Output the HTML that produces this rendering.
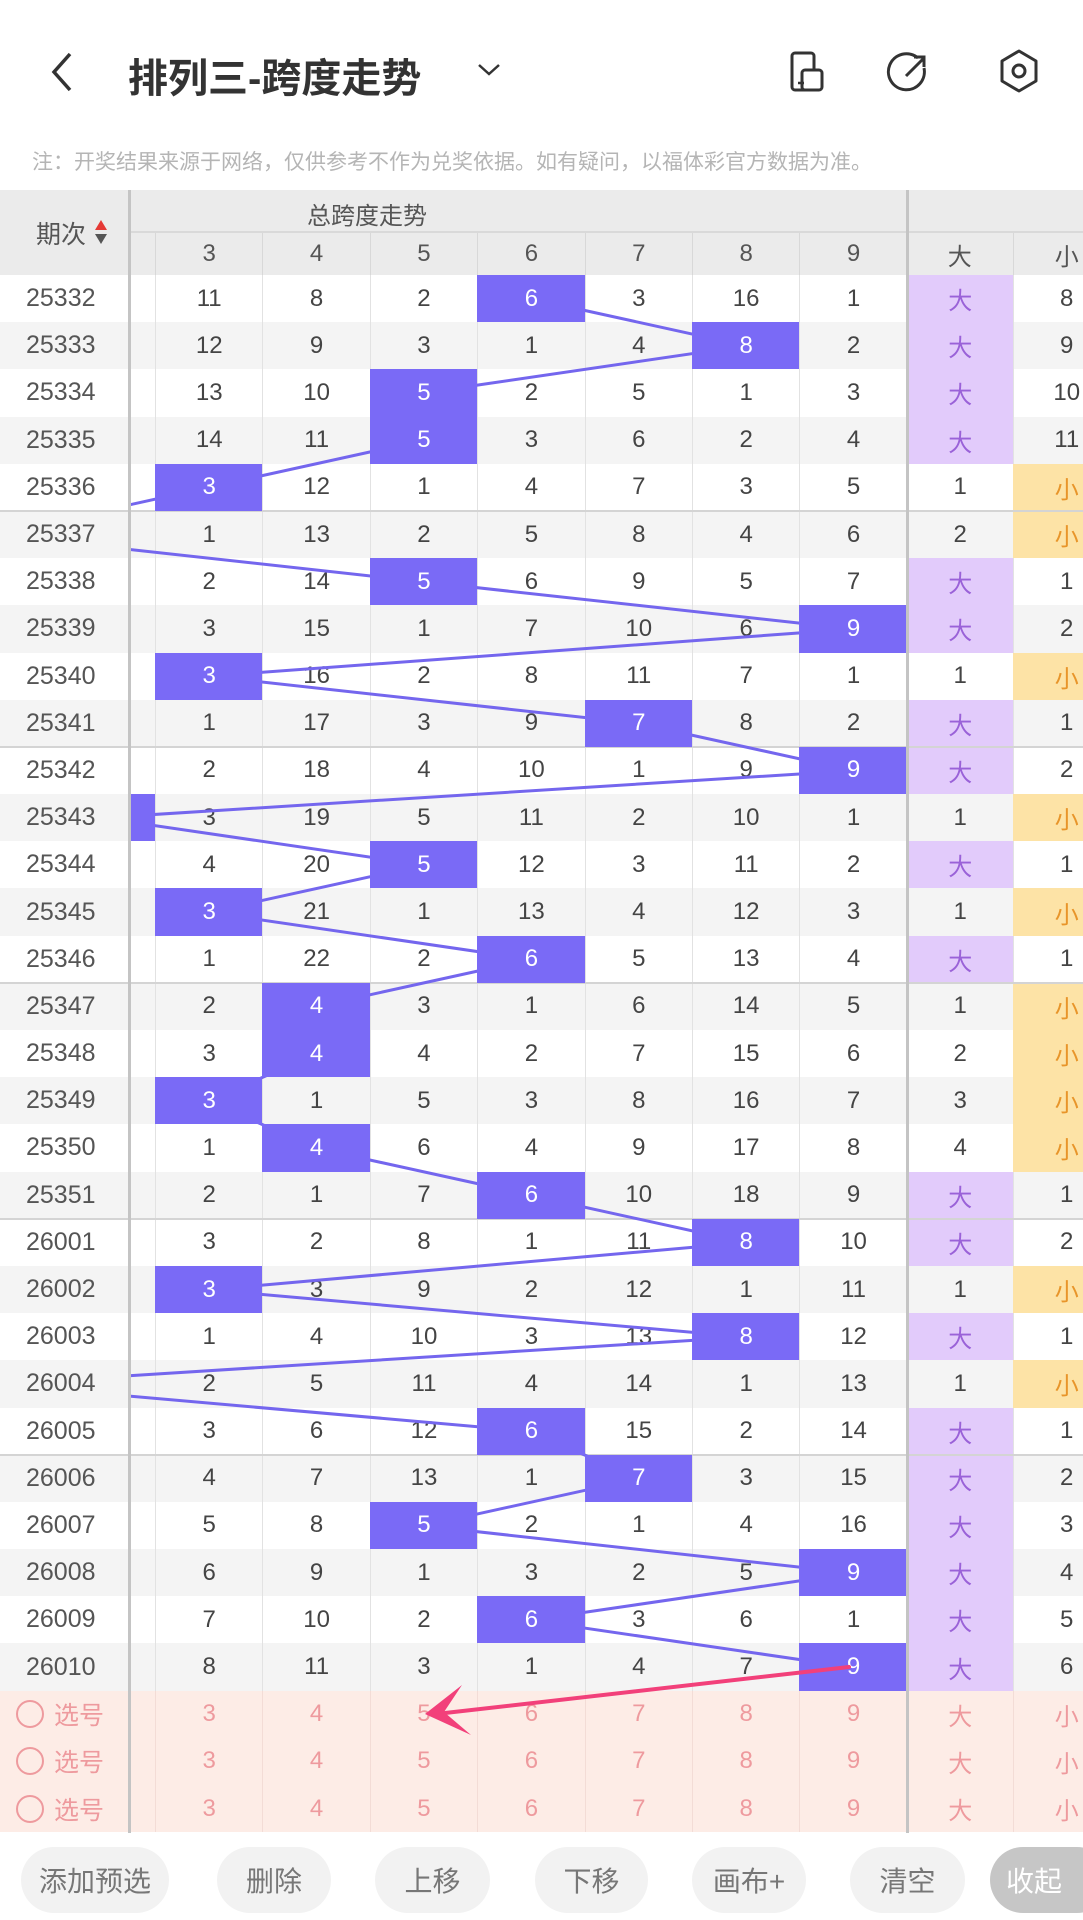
<!DOCTYPE html>
<html><head><meta charset="utf-8">
<style>
*{margin:0;padding:0;box-sizing:border-box}
body{width:1083px;height:1920px;background:#fff;position:relative;overflow:hidden;font-family:"Liberation Sans","Noto Sans CJK SC",sans-serif;color:#444}
.abs{position:absolute}
#rows{position:absolute;left:0;top:275px;width:1083px}
.r{height:47.2px;display:flex;position:relative;background:#fff}
.r.g{background:#f4f4f4}
.r div{height:100%;display:flex;align-items:center;justify-content:center;font-size:24px;border-left:1px solid #e2e2e2;flex:none}
.r .p{width:131px;border-left:none;font-size:25px;color:#555;justify-content:flex-start;padding-left:26px}
.r .s{width:24px;border-left:none}
.r .c{width:107.4px}
.r .b{width:106px}
.r .x{width:107px}
.r .bl{background:#7a6af6;color:#fff;position:relative;z-index:2;border-left-color:#7a6af6}
.r .da{background:#e2cbfb;color:#9a62d8;border-left-color:#e2cbfb}
.r .xi{background:#fde3a6;color:#e8952a;border-left-color:#fde3a6}
.r.sel{background:#fdece6}
.r.sel div{color:#ee9a9e;border-left-color:#f3dcd6}
.r.sel .p{padding-left:16px;color:#ee9a9e}
.circ{width:28px!important;height:28px!important;border:2px solid #ee9a9e!important;border-radius:50%;margin-right:10px}
.hd{display:flex;font-size:24px;color:#555}
.hd div{flex:none;display:flex;align-items:center;justify-content:center;border-left:1px solid #d8d8d8;height:100%}
.btn{position:absolute;top:1847px;height:66px;border-radius:33px;background:#f2f2f2;color:#777;font-size:28px;display:flex;align-items:center;justify-content:center}
</style></head><body>
<svg class="abs" style="left:46px;top:50px" width="30" height="44"><polyline points="24,4 8,22 24,40" fill="none" stroke="#333" stroke-width="3.5"/></svg>
<div class="abs" style="left:128px;top:46px;font-size:40px;font-weight:bold;color:#333">排列三-跨度走势</div>
<svg class="abs" style="left:476px;top:62px" width="26" height="16"><polyline points="3,3 13,12 23,3" fill="none" stroke="#333" stroke-width="2.5"/></svg>
<svg class="abs" style="left:788px;top:50px" width="50" height="44"><rect x="4" y="3" width="22" height="37" rx="3" fill="none" stroke="#333" stroke-width="3"/><rect x="14" y="20" width="20" height="20" rx="3" fill="#fff" stroke="#333" stroke-width="3"/><line x1="10" y1="33" x2="16" y2="33" stroke="#333" stroke-width="2.5"/></svg>
<svg class="abs" style="left:886px;top:50px" width="46" height="46"><path d="M32 8 A18 18 0 1 0 38 18" fill="none" stroke="#333" stroke-width="3"/><line x1="20" y1="26" x2="37" y2="9" stroke="#333" stroke-width="3"/><polyline points="28,7 38,7 38,17" fill="none" stroke="#333" stroke-width="3"/></svg>
<svg class="abs" style="left:996px;top:48px" width="46" height="46"><polygon points="23,3 40,13 40,33 23,43 6,33 6,13" fill="none" stroke="#333" stroke-width="3" stroke-linejoin="round"/><circle cx="23" cy="23" r="6" fill="none" stroke="#333" stroke-width="3"/></svg>
<div class="abs" style="left:32px;top:146px;font-size:21px;color:#b5b5b5;white-space:nowrap">注：开奖结果来源于网络，仅供参考不作为兑奖依据。如有疑问，以福体彩官方数据为准。</div>

<div class="abs" style="left:0;top:190px;width:1083px;height:85px;background:#ebebeb"></div>
<div class="abs" style="left:131px;top:231px;width:952px;height:2px;background:#d9d9d9"></div>
<div class="abs" style="left:36px;top:215px;font-size:25px;color:#555">期次</div>
<svg class="abs" style="left:94px;top:219px" width="14" height="26"><polygon points="7,1 13,11 1,11" fill="#e53935"/><polygon points="7,25 13,15 1,15" fill="#555"/></svg>
<div class="abs" style="left:307px;top:196px;font-size:24px;color:#555">总跨度走势</div>
<div class="abs hd" style="left:131px;top:233px;width:952px;height:42px">
<div style="width:24px;border-left:none"></div>
<div style="width:107.4px">3</div><div style="width:107.4px">4</div><div style="width:107.4px">5</div><div style="width:107.4px">6</div><div style="width:107.4px">7</div><div style="width:107.4px">8</div><div style="width:107.4px">9</div>
<div style="width:106px;border-left:none">大</div>
<div style="width:107px">小</div>
</div>

<div id="rows">
<div class="r"><div class="p">25332</div><div class="s"></div><div class="c">11</div><div class="c">8</div><div class="c">2</div><div class="c bl">6</div><div class="c">3</div><div class="c">16</div><div class="c">1</div><div class="b da">大</div><div class="x">8</div></div>
<div class="r g"><div class="p">25333</div><div class="s"></div><div class="c">12</div><div class="c">9</div><div class="c">3</div><div class="c">1</div><div class="c">4</div><div class="c bl">8</div><div class="c">2</div><div class="b da">大</div><div class="x">9</div></div>
<div class="r"><div class="p">25334</div><div class="s"></div><div class="c">13</div><div class="c">10</div><div class="c bl">5</div><div class="c">2</div><div class="c">5</div><div class="c">1</div><div class="c">3</div><div class="b da">大</div><div class="x">10</div></div>
<div class="r g"><div class="p">25335</div><div class="s"></div><div class="c">14</div><div class="c">11</div><div class="c bl">5</div><div class="c">3</div><div class="c">6</div><div class="c">2</div><div class="c">4</div><div class="b da">大</div><div class="x">11</div></div>
<div class="r"><div class="p">25336</div><div class="s"></div><div class="c bl">3</div><div class="c">12</div><div class="c">1</div><div class="c">4</div><div class="c">7</div><div class="c">3</div><div class="c">5</div><div class="b">1</div><div class="x xi">小</div></div>
<div class="r g"><div class="p">25337</div><div class="s"></div><div class="c">1</div><div class="c">13</div><div class="c">2</div><div class="c">5</div><div class="c">8</div><div class="c">4</div><div class="c">6</div><div class="b">2</div><div class="x xi">小</div></div>
<div class="r"><div class="p">25338</div><div class="s"></div><div class="c">2</div><div class="c">14</div><div class="c bl">5</div><div class="c">6</div><div class="c">9</div><div class="c">5</div><div class="c">7</div><div class="b da">大</div><div class="x">1</div></div>
<div class="r g"><div class="p">25339</div><div class="s"></div><div class="c">3</div><div class="c">15</div><div class="c">1</div><div class="c">7</div><div class="c">10</div><div class="c">6</div><div class="c bl">9</div><div class="b da">大</div><div class="x">2</div></div>
<div class="r"><div class="p">25340</div><div class="s"></div><div class="c bl">3</div><div class="c">16</div><div class="c">2</div><div class="c">8</div><div class="c">11</div><div class="c">7</div><div class="c">1</div><div class="b">1</div><div class="x xi">小</div></div>
<div class="r g"><div class="p">25341</div><div class="s"></div><div class="c">1</div><div class="c">17</div><div class="c">3</div><div class="c">9</div><div class="c bl">7</div><div class="c">8</div><div class="c">2</div><div class="b da">大</div><div class="x">1</div></div>
<div class="r"><div class="p">25342</div><div class="s"></div><div class="c">2</div><div class="c">18</div><div class="c">4</div><div class="c">10</div><div class="c">1</div><div class="c">9</div><div class="c bl">9</div><div class="b da">大</div><div class="x">2</div></div>
<div class="r g"><div class="p">25343</div><div class="s bl"></div><div class="c">3</div><div class="c">19</div><div class="c">5</div><div class="c">11</div><div class="c">2</div><div class="c">10</div><div class="c">1</div><div class="b">1</div><div class="x xi">小</div></div>
<div class="r"><div class="p">25344</div><div class="s"></div><div class="c">4</div><div class="c">20</div><div class="c bl">5</div><div class="c">12</div><div class="c">3</div><div class="c">11</div><div class="c">2</div><div class="b da">大</div><div class="x">1</div></div>
<div class="r g"><div class="p">25345</div><div class="s"></div><div class="c bl">3</div><div class="c">21</div><div class="c">1</div><div class="c">13</div><div class="c">4</div><div class="c">12</div><div class="c">3</div><div class="b">1</div><div class="x xi">小</div></div>
<div class="r"><div class="p">25346</div><div class="s"></div><div class="c">1</div><div class="c">22</div><div class="c">2</div><div class="c bl">6</div><div class="c">5</div><div class="c">13</div><div class="c">4</div><div class="b da">大</div><div class="x">1</div></div>
<div class="r g"><div class="p">25347</div><div class="s"></div><div class="c">2</div><div class="c bl">4</div><div class="c">3</div><div class="c">1</div><div class="c">6</div><div class="c">14</div><div class="c">5</div><div class="b">1</div><div class="x xi">小</div></div>
<div class="r"><div class="p">25348</div><div class="s"></div><div class="c">3</div><div class="c bl">4</div><div class="c">4</div><div class="c">2</div><div class="c">7</div><div class="c">15</div><div class="c">6</div><div class="b">2</div><div class="x xi">小</div></div>
<div class="r g"><div class="p">25349</div><div class="s"></div><div class="c bl">3</div><div class="c">1</div><div class="c">5</div><div class="c">3</div><div class="c">8</div><div class="c">16</div><div class="c">7</div><div class="b">3</div><div class="x xi">小</div></div>
<div class="r"><div class="p">25350</div><div class="s"></div><div class="c">1</div><div class="c bl">4</div><div class="c">6</div><div class="c">4</div><div class="c">9</div><div class="c">17</div><div class="c">8</div><div class="b">4</div><div class="x xi">小</div></div>
<div class="r g"><div class="p">25351</div><div class="s"></div><div class="c">2</div><div class="c">1</div><div class="c">7</div><div class="c bl">6</div><div class="c">10</div><div class="c">18</div><div class="c">9</div><div class="b da">大</div><div class="x">1</div></div>
<div class="r"><div class="p">26001</div><div class="s"></div><div class="c">3</div><div class="c">2</div><div class="c">8</div><div class="c">1</div><div class="c">11</div><div class="c bl">8</div><div class="c">10</div><div class="b da">大</div><div class="x">2</div></div>
<div class="r g"><div class="p">26002</div><div class="s"></div><div class="c bl">3</div><div class="c">3</div><div class="c">9</div><div class="c">2</div><div class="c">12</div><div class="c">1</div><div class="c">11</div><div class="b">1</div><div class="x xi">小</div></div>
<div class="r"><div class="p">26003</div><div class="s"></div><div class="c">1</div><div class="c">4</div><div class="c">10</div><div class="c">3</div><div class="c">13</div><div class="c bl">8</div><div class="c">12</div><div class="b da">大</div><div class="x">1</div></div>
<div class="r g"><div class="p">26004</div><div class="s"></div><div class="c">2</div><div class="c">5</div><div class="c">11</div><div class="c">4</div><div class="c">14</div><div class="c">1</div><div class="c">13</div><div class="b">1</div><div class="x xi">小</div></div>
<div class="r"><div class="p">26005</div><div class="s"></div><div class="c">3</div><div class="c">6</div><div class="c">12</div><div class="c bl">6</div><div class="c">15</div><div class="c">2</div><div class="c">14</div><div class="b da">大</div><div class="x">1</div></div>
<div class="r g"><div class="p">26006</div><div class="s"></div><div class="c">4</div><div class="c">7</div><div class="c">13</div><div class="c">1</div><div class="c bl">7</div><div class="c">3</div><div class="c">15</div><div class="b da">大</div><div class="x">2</div></div>
<div class="r"><div class="p">26007</div><div class="s"></div><div class="c">5</div><div class="c">8</div><div class="c bl">5</div><div class="c">2</div><div class="c">1</div><div class="c">4</div><div class="c">16</div><div class="b da">大</div><div class="x">3</div></div>
<div class="r g"><div class="p">26008</div><div class="s"></div><div class="c">6</div><div class="c">9</div><div class="c">1</div><div class="c">3</div><div class="c">2</div><div class="c">5</div><div class="c bl">9</div><div class="b da">大</div><div class="x">4</div></div>
<div class="r"><div class="p">26009</div><div class="s"></div><div class="c">7</div><div class="c">10</div><div class="c">2</div><div class="c bl">6</div><div class="c">3</div><div class="c">6</div><div class="c">1</div><div class="b da">大</div><div class="x">5</div></div>
<div class="r g"><div class="p">26010</div><div class="s"></div><div class="c">8</div><div class="c">11</div><div class="c">3</div><div class="c">1</div><div class="c">4</div><div class="c">7</div><div class="c bl">9</div><div class="b da">大</div><div class="x">6</div></div>
<div class="r sel"><div class="p"><div class="circ"></div>选号</div><div class="s"></div><div class="c">3</div><div class="c">4</div><div class="c">5</div><div class="c">6</div><div class="c">7</div><div class="c">8</div><div class="c">9</div><div class="b">大</div><div class="x">小</div></div>
<div class="r sel"><div class="p"><div class="circ"></div>选号</div><div class="s"></div><div class="c">3</div><div class="c">4</div><div class="c">5</div><div class="c">6</div><div class="c">7</div><div class="c">8</div><div class="c">9</div><div class="b">大</div><div class="x">小</div></div>
<div class="r sel"><div class="p"><div class="circ"></div>选号</div><div class="s"></div><div class="c">3</div><div class="c">4</div><div class="c">5</div><div class="c">6</div><div class="c">7</div><div class="c">8</div><div class="c">9</div><div class="b">大</div><div class="x">小</div></div>
</div>

<div class="abs" style="left:0;top:510px;width:1083px;height:2px;background:#d4d4d4"></div>
<div class="abs" style="left:0;top:746px;width:1083px;height:2px;background:#d4d4d4"></div>
<div class="abs" style="left:0;top:982px;width:1083px;height:2px;background:#d4d4d4"></div>
<div class="abs" style="left:0;top:1218px;width:1083px;height:2px;background:#d4d4d4"></div>
<div class="abs" style="left:0;top:1454px;width:1083px;height:2px;background:#d4d4d4"></div>
<div class="abs" style="left:128px;top:190px;width:3px;height:1643px;background:#c4c4c4;z-index:3"></div>
<div class="abs" style="left:906px;top:190px;width:3px;height:1643px;background:#c4c4c4;z-index:3"></div>

<svg class="abs" style="left:131px;top:0;z-index:1" width="952" height="1920" viewBox="131 0 952 1920">
<polyline fill="none" stroke="#7466ee" stroke-width="3" points="530.9,298.6 745.7,345.8 423.5,393 423.5,440.2 208.7,487.4 -6,534.6 423.5,581.8 853.1,629 208.7,676.2 638.3,723.4 853.1,770.6 101.3,817.8 423.5,865 208.7,912.2 530.9,959.4 316.1,1006.6 316.1,1053.8 208.7,1101 316.1,1148.2 530.9,1195.4 745.7,1242.6 208.7,1289.8 745.7,1337 -6,1384.2 530.9,1431.4 638.3,1478.6 423.5,1525.8 853.1,1573 530.9,1620.2 853.1,1667.4"/>
</svg>
<svg class="abs" style="left:0;top:0;z-index:4" width="1083" height="1920">
<line x1="849" y1="1667" x2="445" y2="1713" stroke="#f2407a" stroke-width="4" stroke-linecap="round"/>
<polygon points="425,1714 462,1685 444,1712 471,1735" fill="#f2407a"/>
</svg>

<div class="btn" style="left:21px;width:148px">添加预选</div>
<div class="btn" style="left:217px;width:114px">删除</div>
<div class="btn" style="left:375px;width:115px">上移</div>
<div class="btn" style="left:535px;width:113px">下移</div>
<div class="btn" style="left:692px;width:114px">画布+</div>
<div class="btn" style="left:850px;width:115px">清空</div>
<div class="btn" style="left:990px;width:120px;background:#c6c6c6;color:#fff;justify-content:flex-start;padding-left:16px">收起</div>
</body></html>
